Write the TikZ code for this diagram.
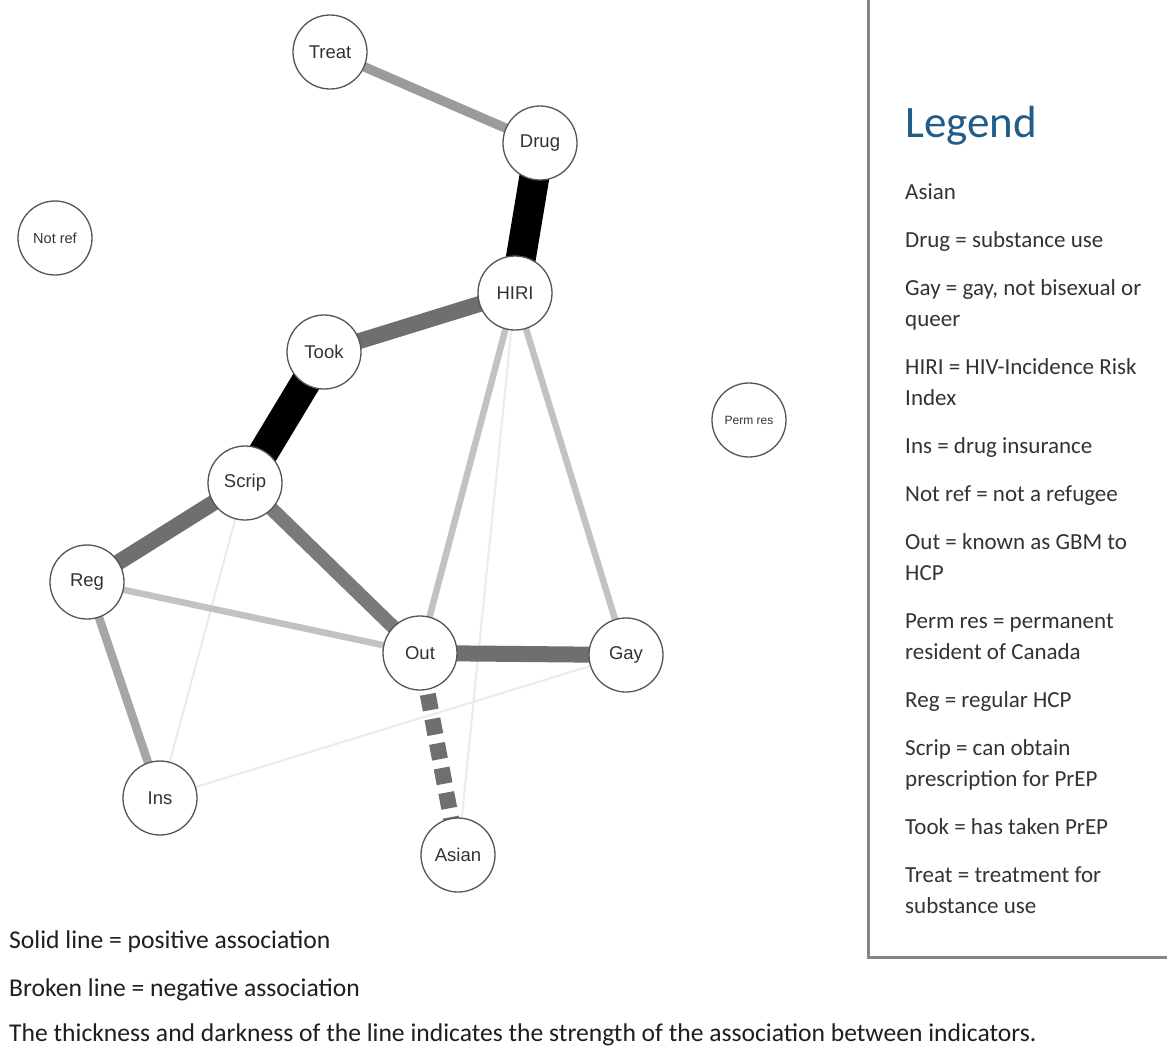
\documentclass[tikz,border=0pt]{standalone}
\usepackage{fontspec}
\setmainfont{Carlito}
\newfontfamily\arialf{Liberation Sans}
\usetikzlibrary{backgrounds}
\definecolor{nodeborder}{HTML}{555555}
\definecolor{nodetext}{HTML}{333333}
\definecolor{ewdark}{HTML}{6F6F6F}
\definecolor{ewmid}{HTML}{7A7A7A}
\definecolor{ewgrey}{HTML}{9B9B9B}
\definecolor{ewins}{HTML}{A6A6A6}
\definecolor{ewlight}{HTML}{C2C2C2}
\definecolor{ewfaint}{HTML}{EBEBEB}
\definecolor{legtitle}{HTML}{1F5C88}
\definecolor{legtextc}{HTML}{333333}
\definecolor{boxgray}{HTML}{858585}
\begin{document}
\begin{tikzpicture}[x=1pt,y=-1pt,
  vnode/.style={circle, draw=nodeborder, line width=1.3pt, fill=white, minimum size=74pt, inner sep=0pt, text=nodetext, font=\arialf\fontsize{18.5}{20}\selectfont},
  smallnode/.style={vnode, font=\arialf\fontsize{14.5}{16}\selectfont},
  tinynode/.style={vnode, font=\arialf\fontsize{12}{14}\selectfont},
  edgeline/.style={line cap=butt},
  legtext/.style={anchor=base west, inner sep=0pt, text=legtextc, font=\fontsize{23}{28}\selectfont},
  foottext/.style={anchor=base west, inner sep=0pt, text=black!88, font=\fontsize{25.6}{30}\selectfont}]
\useasboundingbox (0,0) rectangle (1167,1050);
% nodes
\node[vnode] (treat) at (330,52) {Treat};
\node[vnode] (drug) at (540,143) {Drug};
\node[smallnode] (notref) at (55,238) {Not ref};
\node[vnode] (hiri) at (515,293) {HIRI};
\node[vnode] (took) at (324,352) {Took};
\node[tinynode] (permres) at (749,420) {Perm res};
\node[vnode] (scrip) at (245,483) {Scrip};
\node[vnode] (reg) at (87,582) {Reg};
\node[vnode] (out) at (420,653) {Out};
\node[vnode] (gay) at (626,655) {Gay};
\node[vnode] (ins) at (160,798) {Ins};
\node[vnode] (asian) at (458,855) {Asian};
% edges
\begin{scope}[on background layer]
\fill[white] (0,0) rectangle (1167,1050);
\draw[edgeline, line width=2pt, ewfaint] (scrip.center) -- (ins.center);
\draw[edgeline, line width=2pt, ewfaint] (ins.center) -- (gay.center);
\draw[edgeline, line width=2pt, ewfaint] (hiri.center) -- (asian.center);
\draw[edgeline, line width=6.5pt, ewlight] (hiri.center) -- (out.center);
\draw[edgeline, line width=6.5pt, ewlight] (hiri.center) -- (gay.center);
\draw[edgeline, line width=6.5pt, ewlight] (reg.center) -- (out.center);
\draw[edgeline, line width=8.5pt, ewins] (reg.center) -- (ins.center);
\draw[edgeline, line width=9.5pt, ewgrey] (treat.center) -- (drug.center);
\draw[edgeline, line width=14pt, ewmid] (scrip.center) -- (out.center);
\draw[edgeline, line width=16pt, ewdark] (scrip.center) -- (reg.center);
\draw[edgeline, line width=16pt, ewdark] (hiri.center) -- (took.center);
\draw[edgeline, line width=16pt, ewdark] (out.center) -- (gay.center);
\draw[edgeline, line width=16pt, ewdark, dash pattern=on 16pt off 9pt, dash phase=8pt] (out.center) -- (asian.center);
\draw[edgeline, line width=30pt, black] (drug.center) -- (hiri.center);
\draw[edgeline, line width=30pt, black] (took.center) -- (scrip.center);
\end{scope}
% legend box
\draw[line width=3pt, boxgray] (868,0) -- (868,957) -- (1167,957);
\node[anchor=base west, inner sep=0pt, text=legtitle, font=\fontsize{45}{50}\selectfont] (legtitle) at (905,137) {Legend};
\node[legtext] (l01) at (905,199) {Asian};
\node[legtext] (l02) at (905,247) {Drug = substance use};
\node[legtext] (l03) at (905,295) {Gay = gay, not bisexual or};
\node[legtext] (l04) at (905,326) {queer};
\node[legtext] (l05) at (905,374) {HIRI = HIV-Incidence Risk};
\node[legtext] (l06) at (905,405) {Index};
\node[legtext] (l07) at (905,453) {Ins = drug insurance};
\node[legtext] (l08) at (905,501) {Not ref = not a refugee};
\node[legtext] (l09) at (905,549) {Out = known as GBM to};
\node[legtext] (l10) at (905,580) {HCP};
\node[legtext] (l11) at (905,628) {Perm res = permanent};
\node[legtext] (l12) at (905,659) {resident of Canada};
\node[legtext] (l13) at (905,707) {Reg = regular HCP};
\node[legtext] (l14) at (905,755) {Scrip = can obtain};
\node[legtext] (l15) at (905,786) {prescription for PrEP};
\node[legtext] (l16) at (905,834) {Took = has taken PrEP};
\node[legtext] (l17) at (905,882) {Treat = treatment for};
\node[legtext] (l18) at (905,913) {substance use};
% footer
\node[foottext] (f1) at (9,948) {Solid line = positive association};
\node[foottext] (f2) at (9,996) {Broken line = negative association};
\node[foottext] (f3) at (9,1041) {The thickness and darkness of the line indicates the strength of the association between indicators.};
\end{tikzpicture}
\end{document}
